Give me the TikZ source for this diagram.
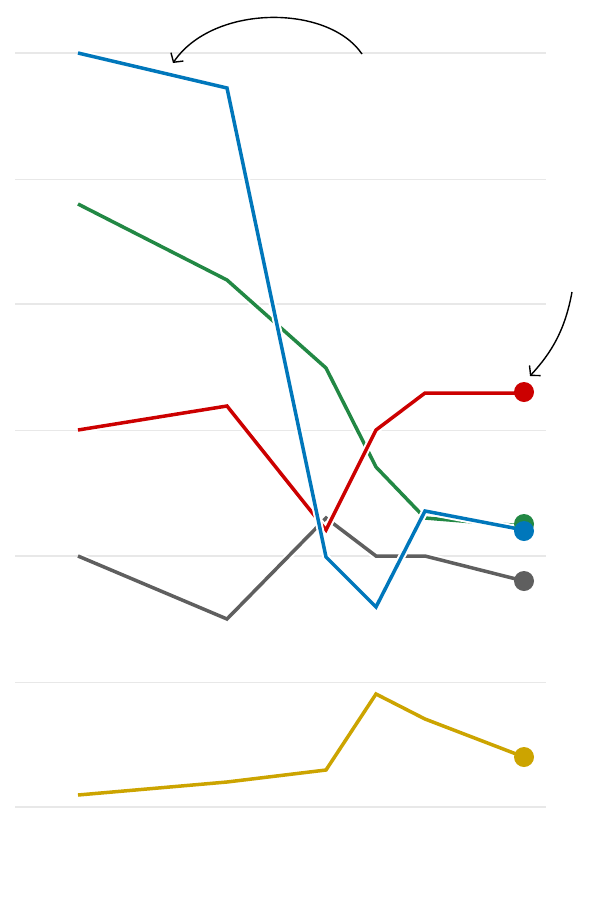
\documentclass[tikz,border=0pt]{standalone}
\usetikzlibrary{arrows.meta}
\definecolor{cblue}{RGB}{0,119,187}
\definecolor{cgreen}{RGB}{34,136,68}
\definecolor{cred}{RGB}{204,0,0}
\definecolor{cgray}{RGB}{95,95,95}
\definecolor{cyellow}{RGB}{204,164,0}
\definecolor{cgrid}{RGB}{232,232,232}
\tikzset{
  halo/.style={white,line width=7.5pt,line join=miter},
  series/.style={line width=3.5pt,line join=miter},
  dot/.style={fill=#1},
  note/.style={black,line width=1.4pt,-{Straight Barb[length=6.5pt,width=15pt,line width=1.4pt]}}
}
\begin{document}
\begin{tikzpicture}[x=1pt,y=-1pt]
\useasboundingbox (0,0) rectangle (600,900);
% grid
\foreach \y in {53,304,556,807} \draw[cgrid,line width=2pt](15,\y)--(546,\y);
\foreach \y in {179,430,682} \draw[cgrid,line width=1pt](15,\y)--(546,\y);
% series, bottom to top
\draw[halo] (78,556)--(227,619)--(326,518)--(376,556)--(425,556)--(524,581);
\draw[series,cgray] (78,556)--(227,619)--(326,518)--(376,556)--(425,556)--(524,581);
\draw[halo] (78,795)--(227,782)--(326,770)--(376,694)--(425,719)--(524,757);
\draw[series,cyellow] (78,795)--(227,782)--(326,770)--(376,694)--(425,719)--(524,757);
\draw[halo] (78,204)--(227,280)--(326,368)--(376,467)--(425,518)--(524,526);
\draw[series,cgreen] (78,204)--(227,280)--(326,368)--(376,467)--(425,518)--(524,526);
\draw[halo] (78,430)--(227,406)--(326,530)--(376,430)--(425,393)--(524,393);
\draw[series,cred] (78,430)--(227,406)--(326,530)--(376,430)--(425,393)--(524,393);
\draw[halo] (78,53)--(227,88)--(326,557)--(376,607)--(425,511)--(524,530);
\draw[series,cblue] (78,53)--(227,88)--(326,557)--(376,607)--(425,511)--(524,530);
% end points
\fill[dot=cgray](524,581)circle(10);
\fill[dot=cyellow](524,757)circle(10);
\fill[dot=cred](524,392)circle(10);
\fill[dot=cgreen](524,524)circle(10);
\fill[dot=cblue](524,531)circle(10);
% annotations
\coordinate(t0)at(362,54);
\coordinate(t1)at(173,63);
\coordinate(r0)at(572,292);
\coordinate(r1)at(530,376);
\draw[note](t0)..controls(328,4)and(213,4)..(t1);
\draw[note](r0)..controls(565,330)and(552,352)..(r1);
\end{tikzpicture}
\end{document}
